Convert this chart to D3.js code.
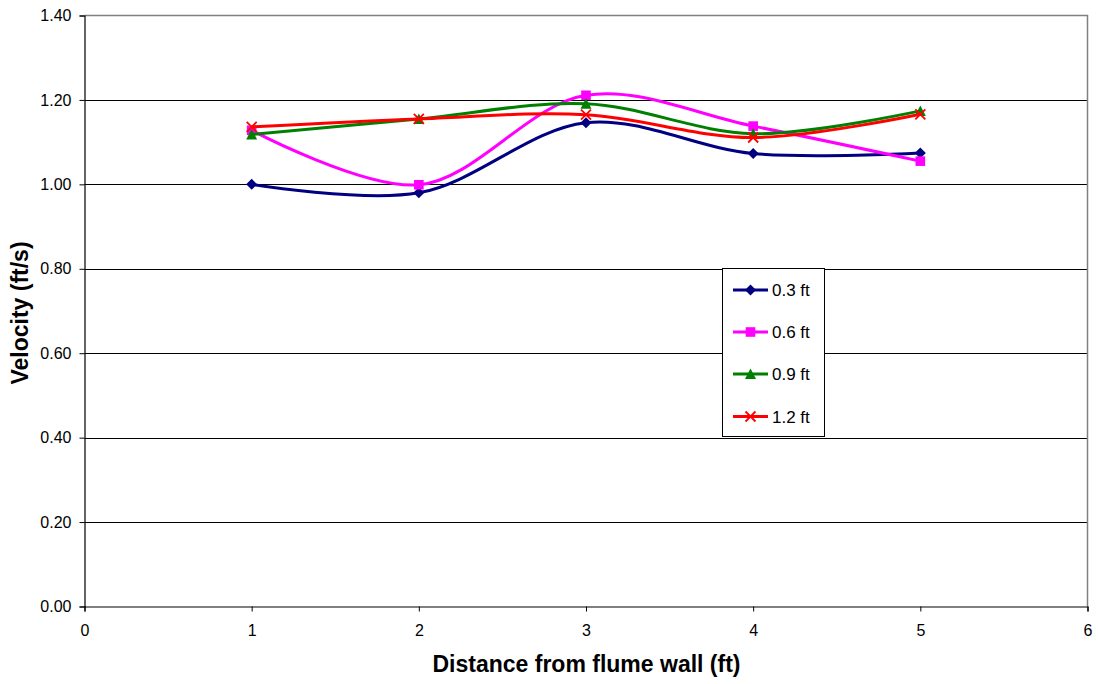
<!DOCTYPE html>
<html>
<head>
<meta charset="utf-8">
<script src="https://cdn.jsdelivr.net/npm/d3@7"></script>
<style>
  html, body { margin: 0; padding: 0; background: #fff; }
  svg { display: block; font-family: Arial, "Liberation Sans", sans-serif; }
</style>
</head>
<body>
<svg id="chart" width="1098" height="684"></svg>
<script>
// Measurement positions across the flume (ft)
const distances = [1, 2, 3, 4, 5];

// Velocity profiles (ft/s) at each depth
const seriesNames = ["0.3 ft", "0.6 ft", "0.9 ft", "1.2 ft"];
const vel03 = [1.000, 0.980, 1.146, 1.073, 1.074];
const vel06 = [1.128, 0.999, 1.211, 1.138, 1.055];
const vel09 = [1.118, 1.155, 1.191, 1.120, 1.174];
const vel12 = [1.136, 1.155, 1.165, 1.111, 1.166];

const xTicks = [0, 1, 2, 3, 4, 5, 6];
const yTicks = [0, 0.2, 0.4, 0.6, 0.8, 1.0, 1.2, 1.4];

const colors = ["#000080", "#ff00ff", "#008000", "#ff0000"];
const markers = ["diamond", "square", "triangle", "cross"];

const series = [vel03, vel06, vel09, vel12].map((vals, i) => ({
  name: seriesNames[i],
  color: colors[i],
  marker: markers[i],
  values: vals.map((v, j) => ({ x: distances[j], y: v }))
}));

const svg = d3.select("#chart");
const margin = { left: 84.5, right: 10.5, top: 15.5, bottom: 77.5 };
const W = 1098, H = 684;
const x = d3.scaleLinear().domain([0, 6]).range([margin.left, W - margin.right]);
const y = d3.scaleLinear().domain([0, 1.4]).range([H - margin.bottom, margin.top]);

// Horizontal gridlines
svg.append("g")
  .selectAll("line")
  .data(yTicks.slice(1, -1))
  .join("line")
  .attr("x1", x(0)).attr("x2", x(6))
  .attr("y1", d => Math.round(y(d)) + 0.5).attr("y2", d => Math.round(y(d)) + 0.5)
  .attr("stroke", "#000").attr("stroke-width", 1);

// Plot frame (top and right)
svg.append("path")
  .attr("d", `M${x(0)},${y(1.4)}H${x(6)}V${y(0)}`)
  .attr("fill", "none").attr("stroke", "#808080").attr("stroke-width", 1.5);

// Axes
const xAxis = d3.axisBottom(x).tickValues(xTicks).tickFormat(d3.format("d")).tickSizeOuter(0).tickSize(5).tickPadding(13);
const yAxis = d3.axisLeft(y).tickValues(yTicks).tickFormat(d3.format(".2f")).tickSizeOuter(0).tickSize(5).tickPadding(8);

const gx = svg.append("g").attr("transform", `translate(0,${y(0)})`).call(xAxis);
const gy = svg.append("g").attr("transform", `translate(${x(0)},0)`).call(yAxis);
[gx, gy].forEach(g => {
  g.select(".domain").attr("stroke", "#000").attr("stroke-width", 1.2);
  g.selectAll(".tick line").attr("stroke", "#000");
  g.selectAll("text").attr("font-size", 16).attr("fill", "#000")
    .attr("font-family", "Arial, 'Liberation Sans', sans-serif");
});

// Axis titles
svg.append("text")
  .attr("x", 586.5).attr("y", 672)
  .attr("text-anchor", "middle")
  .attr("font-size", 23).attr("font-weight", "bold")
  .text("Distance from flume wall (ft)");

svg.append("text")
  .attr("transform", `translate(28,${313}) rotate(-90)`)
  .attr("text-anchor", "middle")
  .attr("font-size", 23).attr("font-weight", "bold")
  .text("Velocity (ft/s)");

// Smoothed series lines
const line = d3.line()
  .x(d => x(d.x)).y(d => y(d.y))
  .curve(d3.curveCatmullRom.alpha(0.5));

function drawMarker(g, type, color) {
  if (type === "diamond") {
    const s = 5.5;
    g.append("path").attr("d", `M0,${-s}L${s},0L0,${s}L${-s},0Z`).attr("fill", color);
  } else if (type === "square") {
    const s = 4.8;
    g.append("rect").attr("x", -s).attr("y", -s).attr("width", 2 * s).attr("height", 2 * s).attr("fill", color);
  } else if (type === "triangle") {
    g.append("path").attr("d", "M0,-5.5L5.5,5L-5.5,5Z").attr("fill", color);
  } else {
    const s = 5;
    g.append("path").attr("d", `M${-s},${-s}L${s},${s}M${s},${-s}L${-s},${s}`)
      .attr("stroke", color).attr("stroke-width", 1.8).attr("fill", "none");
  }
}

series.forEach(s => {
  svg.append("path")
    .datum(s.values)
    .attr("d", line)
    .attr("fill", "none")
    .attr("stroke", s.color)
    .attr("stroke-width", 3);
  const mg = svg.append("g");
  s.values.forEach(p => {
    const g = mg.append("g").attr("transform", `translate(${x(p.x)},${y(p.y)})`);
    drawMarker(g, s.marker, s.color);
  });
});

// Legend
const legend = svg.append("g");
legend.append("rect")
  .attr("x", 722.5).attr("y", 268.5).attr("width", 102).attr("height", 168)
  .attr("fill", "#fff").attr("stroke", "#000").attr("stroke-width", 1);

const legendY = [290, 332, 374, 416.5];
series.forEach((s, i) => {
  const ly = legendY[i];
  legend.append("line")
    .attr("x1", 733).attr("x2", 768).attr("y1", ly).attr("y2", ly)
    .attr("stroke", s.color).attr("stroke-width", 3);
  const g = legend.append("g").attr("transform", `translate(750.5,${ly})`);
  drawMarker(g, s.marker, s.color);
  legend.append("text")
    .attr("x", 772).attr("y", ly + 6)
    .attr("font-size", 17).attr("fill", "#000")
    .text(s.name);
});
</script>
</body>
</html>
